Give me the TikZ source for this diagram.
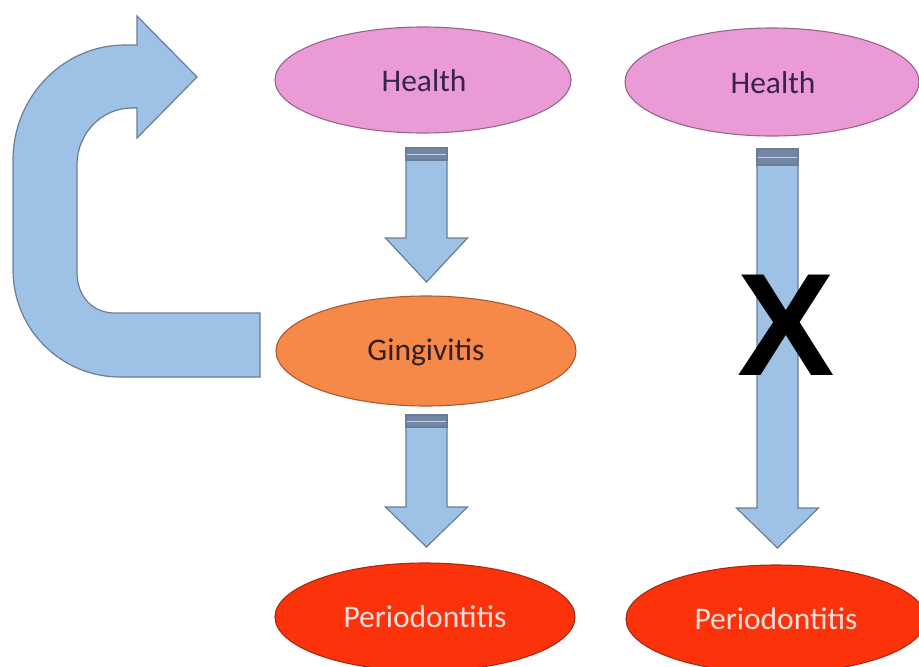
\documentclass[tikz,border=0pt]{standalone}
\usepackage{fontspec}
\setmainfont{Carlito}
\newfontfamily\xfont{Liberation Sans}
\usetikzlibrary{calc}
\definecolor{arrfill}{RGB}{158,193,230}
\definecolor{arrline}{RGB}{105,125,150}
\definecolor{arrband}{RGB}{115,135,165}
\definecolor{healthfill}{RGB}{234,155,214}
\definecolor{healthline}{RGB}{150,100,140}
\definecolor{gingfill}{RGB}{246,136,72}
\definecolor{gingline}{RGB}{170,90,50}
\definecolor{periofill}{RGB}{252,50,10}
\definecolor{perioline}{RGB}{170,40,20}
\definecolor{healthtext}{RGB}{55,35,75}
\definecolor{gingtext}{RGB}{55,30,25}
\definecolor{periotext}{RGB}{255,222,222}
\newcommand\blkarrow[5]{%
  % #1 centre x, #2 top y, #3 head start y, #4 tip y, #5 band bottom y
  \fill[arrfill,draw=arrline,line width=1.2pt,line join=miter]
    (#1-20.5,#2) -- (#1+20.5,#2) -- (#1+20.5,#3) -- (#1+41,#3) -- (#1,#4)
    -- (#1-41,#3) -- (#1-20.5,#3) -- cycle;
  \fill[arrband,draw=arrline,line width=1.2pt] (#1-20.5,#2) rectangle (#1+20.5,#5);
  \draw[arrfill!70!white,line width=1pt] (#1-19.5,{(#2+#5)/2}) -- (#1+19.5,{(#2+#5)/2});
}
\begin{document}
\begin{tikzpicture}[x=1pt,y=-1pt,
  blob/.style={draw,line width=1.1pt},
  lbl/.style={font=\fontsize{31.5}{36}\selectfont}]
\useasboundingbox (0,0) rectangle (919,667);
\clip (0,0) rectangle (919,667);
% ellipses
\path[blob,fill=healthfill,draw=healthline] (423,80) ellipse [x radius=148,y radius=53];
\node[lbl,text=healthtext] (h1) at (424,81) {Health};
\path[blob,fill=healthfill,draw=healthline] (772,82) ellipse [x radius=147,y radius=54];
\node[lbl,text=healthtext] (h2) at (773,83) {Health};
\path[blob,fill=gingfill,draw=gingline] (426,351) ellipse [x radius=150,y radius=55];
\node[lbl,text=gingtext] (g) at (426,352) {Gingivitis};
\path[blob,fill=periofill,draw=perioline] (425,617) ellipse [x radius=150,y radius=54];
\node[lbl,text=periotext] (p1) at (425,617) {Periodontitis};
\path[blob,fill=periofill,draw=perioline] (776,619) ellipse [x radius=150,y radius=54];
\node[lbl,text=periotext] (p2) at (776,619) {Periodontitis};
% block arrows
\blkarrow{426.5}{148}{238}{282}{160}
\blkarrow{426.5}{415}{507}{547}{427}
\blkarrow{777.5}{149}{508}{548}{165}
% X
\node[font=\xfont\bfseries\fontsize{146}{150}\selectfont,inner sep=0pt] (x) at (786,325) {X};
% curved return arrow
\fill[arrfill,draw=arrline,line width=1.2pt,line join=miter]
  (260,377) -- (120,377) .. controls (61,377) and (13,329) .. (13,270)
  -- (13,160) .. controls (13,97) and (63,45) .. (125,45)
  -- (137,45) -- (137,16) -- (197,77) -- (137,138) -- (137,108)
  -- (132,108) .. controls (101,108) and (77,134) .. (77,165)
  -- (77,272) .. controls (77,296) and (92,313) .. (115,313)
  -- (260,313) -- cycle;
\end{tikzpicture}
\end{document}
